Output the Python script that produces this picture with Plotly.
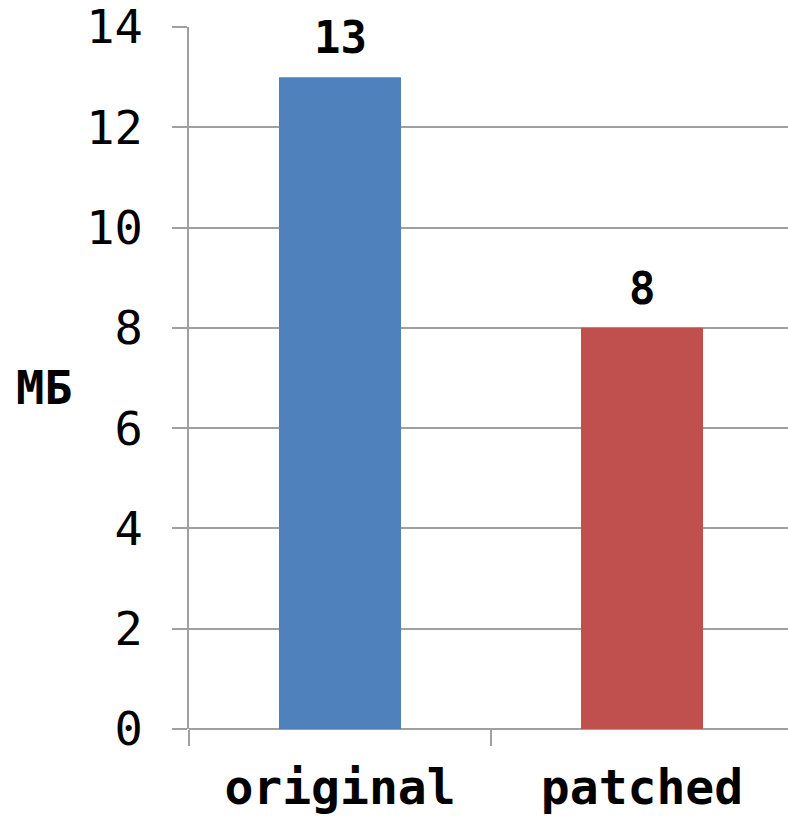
import plotly.graph_objects as go

# File sizes before and after patching
categories = ["original", "patched"]
sizes_mb = [13, 8]
bar_colors = ["#4F81BD", "#C0504D"]
y_ticks = [0, 2, 4, 6, 8, 10, 12, 14]

grid_color = "#A0A0A0"
mono = "DejaVu Sans Mono"

fig = go.Figure(
    go.Bar(
        x=categories,
        y=sizes_mb,
        width=0.404,
        marker=dict(color=bar_colors, line=dict(width=0)),
        cliponaxis=False,
    )
)

# value labels above each bar
value_labels = [
    dict(
        x=cat,
        y=val,
        xref="x",
        yref="y",
        text=str(val),
        showarrow=False,
        xanchor="center",
        yanchor="bottom",
        yshift=12,
        font=dict(family=mono, size=44, color="black", weight="bold"),
    )
    for cat, val in zip(categories, sizes_mb)
]

axis_title = dict(
    text="МБ",
    xref="paper",
    yref="paper",
    x=-0.292,
    y=0.486,
    xanchor="left",
    yanchor="middle",
    showarrow=False,
    font=dict(family=mono, size=47, color="black", weight="bold"),
)

fig.update_layout(
    width=788,
    height=824,
    margin=dict(l=189, r=0, t=27, b=95),
    paper_bgcolor="white",
    plot_bgcolor="white",
    showlegend=False,
    xaxis=dict(
        range=[-0.5, 1.4834],
        showgrid=False,
        showline=False,
        ticks="outside",
        tickson="boundaries",
        ticklen=16,
        tickwidth=1.5,
        tickcolor=grid_color,
        tickfont=dict(family=mono, size=48, color="black", weight="bold"),
        ticklabelstandoff=26,
    ),
    yaxis=dict(
        range=[0, 14],
        tickvals=y_ticks,
        showgrid=True,
        gridcolor=grid_color,
        gridwidth=1.5,
        zeroline=True,
        zerolinecolor=grid_color,
        zerolinewidth=1.5,
        showline=True,
        linecolor=grid_color,
        linewidth=1.5,
        ticks="outside",
        ticklen=15,
        tickwidth=1.5,
        tickcolor=grid_color,
        tickfont=dict(family=mono, size=47, color="black"),
        ticklabelstandoff=20,
        ticklabeloverflow="allow",
    ),
    annotations=value_labels + [axis_title],
)

fig.write_html("out.html")
